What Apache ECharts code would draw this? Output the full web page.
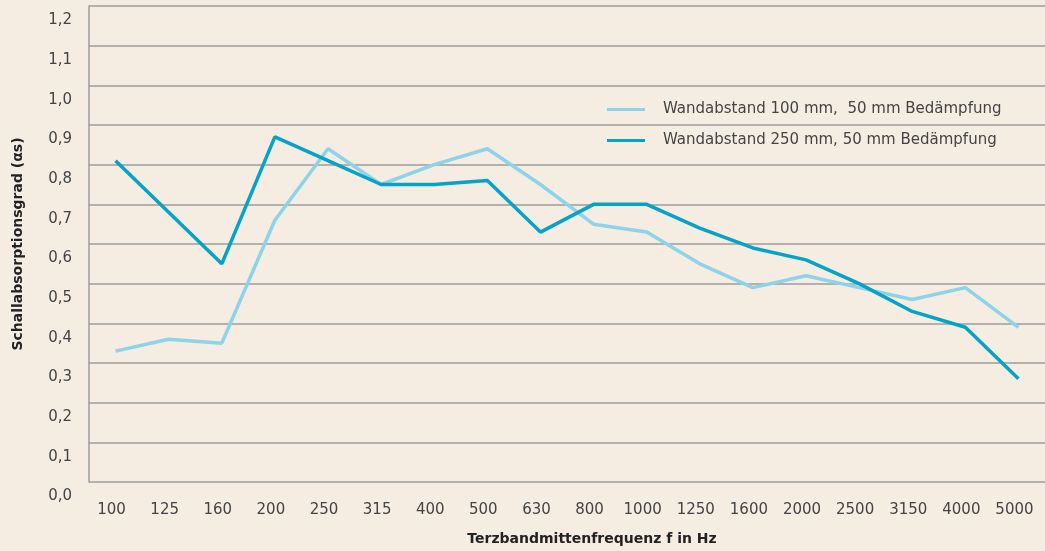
<!DOCTYPE html>
<html>
<head>
<meta charset="utf-8">
<script src="https://cdn.jsdelivr.net/npm/echarts@6/dist/echarts.min.js"></script>
<style>
  html, body { margin: 0; padding: 0; background: #f5ede2; }
  #chart { width: 1045px; height: 551px; }
</style>
</head>
<body>
<div id="chart"></div>
<script>
const categories = ["100","125","160","200","250","315","400","500","630","800","1000","1250","1600","2000","2500","3150","4000","5000"];
const wand100 = [0.33,0.36,0.35,0.66,0.84,0.75,0.80,0.84,0.75,0.65,0.63,0.55,0.49,0.52,0.49,0.46,0.49,0.39];
const wand250 = [0.81,0.68,0.55,0.87,0.81,0.75,0.75,0.76,0.63,0.70,0.70,0.64,0.59,0.56,0.50,0.43,0.39,0.26];
const seriesNames = ["Wandabstand 100 mm,  50 mm Bedämpfung", "Wandabstand 250 mm, 50 mm Bedämpfung"];

const chart = echarts.init(document.getElementById("chart"));
const font = "'DejaVu Sans', sans-serif";

chart.setOption({
    backgroundColor: "#f5ede2",
    animation: false,
    textStyle: { fontFamily: font },
    grid: { left: 89, right: 0, top: 6, bottom: 68 },
    legend: {
        orient: "vertical",
        left: 602,
        top: 97,
        itemWidth: 38,
        itemHeight: 3,
        itemGap: 16,
        icon: "rect",
        data: seriesNames,
        textStyle: { fontSize: 15, color: "#444", padding: [0, 0, 0, 13], fontFamily: font }
    },
    xAxis: {
        type: "category",
        data: categories,
        boundaryGap: true,
        axisLine: { show: false },
        axisTick: { show: false },
        axisLabel: { fontSize: 15, color: "#444", margin: 21, interval: 0, padding: [0, 8, 0, 0], fontFamily: font },
        name: "Terzbandmittenfrequenz f in Hz",
        nameLocation: "middle",
        nameGap: 50,
        nameTextStyle: { fontSize: 14, fontWeight: "bold", color: "#222", padding: [0, 0, 0, 50], fontFamily: font }
    },
    yAxis: {
        type: "value",
        min: 0,
        max: 1.2,
        interval: 0.1,
        axisLine: { show: true, lineStyle: { color: "#9d9d9d", width: 1.5 } },
        axisTick: { show: false },
        splitLine: { lineStyle: { color: "#9d9d9d", width: 1.5 } },
        axisLabel: {
            fontSize: 15, color: "#444", margin: 17, verticalAlign: "top", padding: [7, 0, 0, 0], fontFamily: font,
            formatter: v => v.toFixed(1).replace(".", ",")
        },
        name: "Schallabsorptionsgrad (αs)",
        nameLocation: "middle",
        nameGap: 64,
        nameTextStyle: { fontSize: 14, fontWeight: "bold", color: "#222", fontFamily: font }
    },
    series: [
        {
            name: seriesNames[0],
            type: "line",
            data: wand100,
            symbol: "none",
            color: "#8dd3ea",
            lineStyle: { color: "#8dd3ea", width: 3.5 }
        },
        {
            name: seriesNames[1],
            type: "line",
            data: wand250,
            symbol: "none",
            color: "#05a3c6",
            lineStyle: { color: "#05a3c6", width: 3.5 }
        }
    ]
});
</script>
</body>
</html>
